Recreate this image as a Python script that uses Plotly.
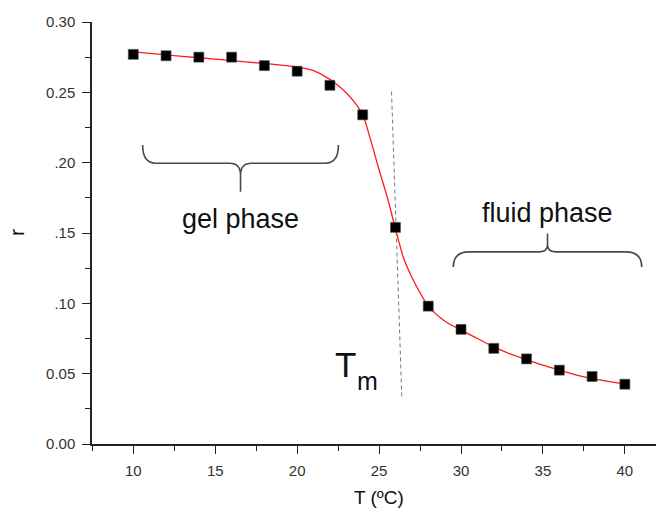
import plotly.graph_objects as go

# Measured anisotropy r versus temperature
temps = [10, 12, 14, 16, 18, 20, 22, 24, 26, 28, 30, 32, 34, 36, 38, 40]
r_vals = [0.277, 0.276, 0.275, 0.275, 0.269, 0.265, 0.255, 0.234, 0.154,
          0.098, 0.0815, 0.068, 0.0605, 0.0525, 0.048, 0.0425]

# Fitted sigmoid curve
fit_T = [10, 12, 14, 16, 18, 20, 21, 22, 22.5, 23, 23.5, 24, 24.5, 25, 25.5,
         26, 26.5, 27, 27.5, 28, 29, 30, 31, 32, 33, 34, 35, 36, 37, 38, 39, 40]
fit_r = [0.2787, 0.2766, 0.2746, 0.2725, 0.2705, 0.2680, 0.2655, 0.2592,
         0.2548, 0.2495, 0.2430, 0.2340, 0.2155, 0.1950, 0.1755, 0.1530,
         0.1320, 0.1185, 0.1075, 0.0980, 0.0875, 0.0810, 0.0750, 0.0690,
         0.0640, 0.0600, 0.0560, 0.0525, 0.0492, 0.0465, 0.0445, 0.0425]

# Tangent through the transition midpoint
tangent_T = [25.76, 26.39]
tangent_r = [0.2505, 0.0323]

y_tickvals = [0.0, 0.05, 0.10, 0.15, 0.20, 0.25, 0.30]
y_ticktext = ["0.00", "0.05", ".10", ".15", ".20", "0.25", "0.30"]
x_tickvals = [10, 15, 20, 25, 30, 35, 40]

X_RANGE = [7.48, 41.9]
Y_RANGE = [0.0, 0.30]
W, H = 656, 508
ML, MR, MT, MB = 92, 0, 22, 64
PW, PH = W - ML - MR, H - MT - MB
UX = PW / (X_RANGE[1] - X_RANGE[0])   # pixels per degree
UY = PH / (Y_RANGE[1] - Y_RANGE[0])   # pixels per unit r


def brace(x0, x1, y_end, y_bar, y_tip, curl_px, tip_px, join_px):
    """Curly brace path in data units; curl sizes given in pixels."""
    cx = curl_px / UX
    tx = tip_px / UX
    sgn = 1 if y_tip > y_bar else -1
    yj = y_bar + sgn * join_px / UY
    xm = (x0 + x1) / 2
    return (f"M {x0},{y_end} Q {x0},{y_bar} {x0 + cx},{y_bar} "
            f"L {xm - tx},{y_bar} Q {xm},{y_bar} {xm},{yj} L {xm},{y_tip} "
            f"M {xm},{yj} Q {xm},{y_bar} {xm + tx},{y_bar} "
            f"L {x1 - cx},{y_bar} Q {x1},{y_bar} {x1},{y_end}")


fig = go.Figure()

fig.add_trace(go.Scatter(
    x=tangent_T, y=tangent_r, mode="lines",
    line=dict(color="#777777", width=1, dash="4px,3px"),
    hoverinfo="skip", showlegend=False))

fig.add_trace(go.Scatter(
    x=fit_T, y=fit_r, mode="lines",
    line=dict(color="#ff1a1a", width=1.3, shape="spline", smoothing=0.8),
    showlegend=False))

fig.add_trace(go.Scatter(
    x=temps, y=r_vals, mode="markers",
    marker=dict(symbol="square", size=10, color="black",
                line=dict(color="#555555", width=0.6)),
    showlegend=False))

brace_style = dict(color="#4a4a4a", width=1.6)
fig.add_shape(type="path", xref="x", yref="y", line=brace_style,
              path=brace(10.57, 22.52, 0.2125, 0.1996, 0.1793, 13, 11, 12))
fig.add_shape(type="path", xref="x", yref="y", line=brace_style,
              path=brace(29.53, 41.03, 0.1259, 0.1366, 0.1497, 16, 8, 7))

txt_font = dict(family="Liberation Sans, Arial, sans-serif", color="#111111")
fig.add_annotation(x=16.54, y=0.160, xref="x", yref="y", text="gel phase",
                   showarrow=False, font=dict(size=27, **txt_font))
fig.add_annotation(x=35.27, y=0.1645, xref="x", yref="y", text="fluid phase",
                   showarrow=False, font=dict(size=27, **txt_font))
# T with a lowered subscript m
fig.add_annotation(x=22.19, y=0.0568, xref="x", yref="y", xanchor="left",
                   yanchor="middle", text="T", showarrow=False,
                   font=dict(size=35, **txt_font))
fig.add_annotation(x=23.50, y=0.0446, xref="x", yref="y", xanchor="left",
                   yanchor="middle", text="m", showarrow=False,
                   font=dict(size=25, **txt_font))

fig.add_annotation(x=(16 - ML) / PW, y=(MT + PH - 233) / PH,
                   xref="paper", yref="paper", xanchor="center",
                   yanchor="middle", text="r", textangle=-90,
                   showarrow=False, font=dict(size=21, **txt_font))
fig.add_annotation(x=(379 - ML) / PW, y=-(497 - (MT + PH)) / PH,
                   xref="paper", yref="paper", xanchor="center",
                   yanchor="middle", text="T (ºC)",
                   showarrow=False, font=dict(size=19, **txt_font))

axis_common = dict(
    showgrid=False, zeroline=False, showline=True, linecolor="#222222",
    linewidth=1.5, ticks="outside", ticklen=8, tickwidth=1.3,
    tickcolor="#222222", ticklabelstandoff=4,
    tickfont=dict(family="Liberation Sans, Arial, sans-serif", size=15,
                  color="#333333"),
)

fig.update_xaxes(range=X_RANGE, tickmode="array", tickvals=x_tickvals,
                 minor=dict(ticks="outside", ticklen=5, tickwidth=1.3,
                            tickcolor="#222222", dtick=2.5, tick0=0),
                 **axis_common)
fig.update_yaxes(range=Y_RANGE, tickmode="array", tickvals=y_tickvals,
                 ticktext=y_ticktext,
                 minor=dict(ticks="outside", ticklen=5, tickwidth=1.3,
                            tickcolor="#222222", dtick=0.025, tick0=0),
                 **axis_common)

fig.update_layout(
    width=W, height=H,
    margin=dict(l=ML, r=MR, t=MT, b=MB, pad=0),
    plot_bgcolor="white", paper_bgcolor="white",
)

fig.write_html("out.html")
